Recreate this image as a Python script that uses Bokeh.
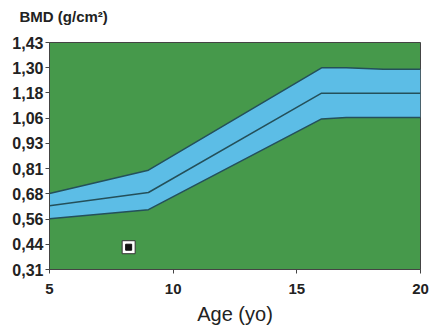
from bokeh.plotting import figure
from bokeh.models import FixedTicker, Range1d, Title
from bokeh.embed import file_html
from bokeh.resources import INLINE

# Data
age = [5, 9, 16, 17, 18.5, 20]
upper = [0.685, 0.80, 1.305, 1.305, 1.298, 1.298]
mid = [0.625, 0.69, 1.18, 1.18, 1.18, 1.18]
lower = [0.56, 0.605, 1.053, 1.06, 1.06, 1.06]

point_age = [8.2]
point_bmd = [0.42]

x_ticks = [5, 10, 15, 20]
y_tick_labels = ["0,31", "0,44", "0,56", "0,68", "0,81", "0,93", "1,06", "1,18", "1,30", "1,43"]
y_min, y_max = 0.31, 1.43
y_ticks = [y_min + i * (y_max - y_min) / (len(y_tick_labels) - 1) for i in range(len(y_tick_labels))]

GREEN = "#46994b"
BLUE = "#5cbde6"
LINE = "#24505a"
FONT = "Liberation Sans"

p = figure(width=430, height=329, output_backend="svg", toolbar_location=None,
           x_range=Range1d(5, 20), y_range=Range1d(y_min, y_max),
           min_border_left=49, min_border_right=10, min_border_top=41, min_border_bottom=60)

p.background_fill_color = GREEN
p.border_fill_color = "white"
p.outline_line_color = "#444444"
p.outline_line_width = 1
p.grid.visible = False

p.varea(x=age, y1=lower, y2=upper, fill_color=BLUE)
for ys in (upper, mid, lower):
    p.line(age, ys, line_color=LINE, line_width=1.5)

p.scatter(point_age, point_bmd, marker="square", size=13, fill_color="white",
          line_color="#333333", line_width=1)
p.scatter(point_age, point_bmd, marker="square", size=6, fill_color="#111111",
          line_color="#111111")

# invisible spacer between the frame and the title
p.add_layout(Title(text=" ", text_font_size="10px", standoff=0), "above")

p.title.text = "BMD (g/cm²)"
p.title.align = "left"
p.title.offset = -30
p.title.text_font = FONT
p.title.text_font_size = "15px"
p.title.text_font_style = "bold"
p.title.text_color = "#222222"

p.xaxis.ticker = FixedTicker(ticks=x_ticks)
p.yaxis.ticker = FixedTicker(ticks=y_ticks)
p.yaxis.major_label_overrides = {t: l for t, l in zip(y_ticks, y_tick_labels)}

for ax in (p.xaxis[0], p.yaxis[0]):
    ax.axis_line_color = "#444444"
    ax.major_tick_line_color = "#444444"
    ax.major_tick_in = 0
    ax.major_tick_out = 4
    ax.minor_tick_line_color = None
    ax.major_label_text_font = FONT
    ax.major_label_text_font_style = "bold"
    ax.major_label_text_color = "#222222"

p.yaxis.major_label_text_font_size = "16px"
p.yaxis.major_label_standoff = 2
p.xaxis.major_label_text_font_size = "15px"
p.xaxis.major_label_standoff = 10
p.xaxis.axis_label = "Age (yo)"
p.xaxis.axis_label_text_font = FONT
p.xaxis.axis_label_text_font_size = "20px"
p.xaxis.axis_label_text_font_style = "normal"
p.xaxis.axis_label_text_color = "#222222"
p.xaxis.axis_label_standoff = 6

open("out.html", "w").write(file_html(p, INLINE))
